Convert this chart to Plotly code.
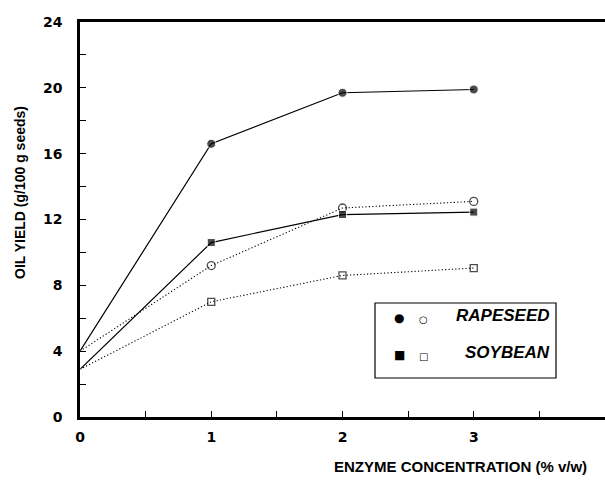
import plotly.graph_objects as go

# Data
enzyme = [0, 1, 2, 3]
rapeseed_filled = [4.0, 16.6, 19.7, 19.9]
rapeseed_open = [4.0, 9.2, 12.7, 13.1]
soybean_filled = [2.9, 10.6, 12.3, 12.45]
soybean_open = [2.9, 7.0, 8.6, 9.05]

x_ticks = [0, 1, 2, 3, 4]
y_ticks = [0, 4, 8, 12, 16, 20, 24]
legend_labels = ["RAPESEED", "SOYBEAN"]

FONT = "Liberation Sans, Arial, sans-serif"
TICKFONT = "DejaVu Sans, sans-serif"
DOT = "1.2px,2.2px"

fig = go.Figure()
fig.add_trace(go.Scatter(x=enzyme, y=rapeseed_open, mode="lines+markers",
                         line=dict(color="black", width=1.1, dash=DOT),
                         marker=dict(symbol=["line-ns-open", "circle-open", "circle-open", "circle-open"],
                                     size=[1, 8, 8, 8], color="black", line=dict(width=1.3)),
                         showlegend=False))
fig.add_trace(go.Scatter(x=enzyme, y=soybean_open, mode="lines+markers",
                         line=dict(color="black", width=1.1, dash=DOT),
                         marker=dict(symbol=["line-ns-open", "square-open", "square-open", "square-open"],
                                     size=[1, 7, 7, 7], color="black", line=dict(width=1.3)),
                         showlegend=False))
fig.add_trace(go.Scatter(x=enzyme, y=rapeseed_filled, mode="lines+markers",
                         line=dict(color="black", width=1.2),
                         marker=dict(symbol="circle", size=[1, 9, 9, 9], color="black"),
                         showlegend=False))
fig.add_trace(go.Scatter(x=enzyme, y=soybean_filled, mode="lines+markers",
                         line=dict(color="black", width=1.2),
                         marker=dict(symbol="square", size=[1, 8, 8, 8], color="black"),
                         showlegend=False))

fig.update_layout(
    width=605, height=482,
    margin=dict(l=80, r=0, t=22, b=65),
    plot_bgcolor="white", paper_bgcolor="white",
    font=dict(family=FONT, color="black"),
    xaxis=dict(range=[0, 4], tickvals=x_ticks, ticks="inside", ticklen=6, tickwidth=1,
               tickcolor="black", showline=True, linewidth=2.5, linecolor="black",
               mirror=True, showgrid=False, zeroline=False, ticklabelstandoff=5,
               tickfont=dict(size=14, family=TICKFONT, weight="bold", color="black"),
               minor=dict(dtick=0.5, ticks="inside", ticklen=6, tickcolor="black", showgrid=False)),
    yaxis=dict(range=[0, 24], tickvals=y_ticks, ticks="inside", ticklen=6, tickwidth=1,
               tickcolor="black", showline=True, linewidth=2.5, linecolor="black",
               showgrid=False, zeroline=False, ticklabelstandoff=12,
               tickfont=dict(size=14, family=TICKFONT, weight="bold", color="black"),
               minor=dict(dtick=2, ticks="inside", ticklen=6, tickcolor="black", showgrid=False)),
)


def px(xp):
    return (xp - 80) / 525


def py(yp):
    return (417 - yp) / 395


# Axis titles
fig.add_annotation(x=px(20), y=py(193), xref="paper", yref="paper",
                   text="OIL YIELD (g/100 g seeds)", textangle=-90, showarrow=False,
                   xanchor="center", yanchor="middle",
                   font=dict(size=14, family=FONT, weight="bold", color="black"))
fig.add_annotation(x=px(460), y=py(466), xref="paper", yref="paper",
                   text="ENZYME CONCENTRATION (% v/w)", showarrow=False,
                   xanchor="center", yanchor="middle",
                   font=dict(size=15, family=FONT, weight="bold", color="black"))

# Legend box
fig.add_shape(type="rect", xref="paper", yref="paper", x0=px(375), x1=px(556),
              y0=py(378), y1=py(303), line=dict(color="black", width=1.2))
rows_y = [327, 364]
filled_syms = ["●", "■"]
open_syms = ["○", "□"]
for i, lab in enumerate(legend_labels):
    fig.add_annotation(x=px(399), y=py(rows_y[i]), xref="paper", yref="paper",
                       text=filled_syms[i], showarrow=False,
                       font=dict(size=12, family="DejaVu Sans", color="black"))
    fig.add_annotation(x=px(423), y=py(rows_y[i]), xref="paper", yref="paper",
                       text=open_syms[i], showarrow=False,
                       font=dict(size=10, family="DejaVu Sans", color="black"))
    fig.add_annotation(x=px(552), y=py(rows_y[i]), xref="paper", yref="paper",
                       text="<b><i>" + lab + "</i></b>", showarrow=False, xanchor="right",
                       font=dict(size=17, family=FONT, color="black"))

fig.write_html("out.html")
